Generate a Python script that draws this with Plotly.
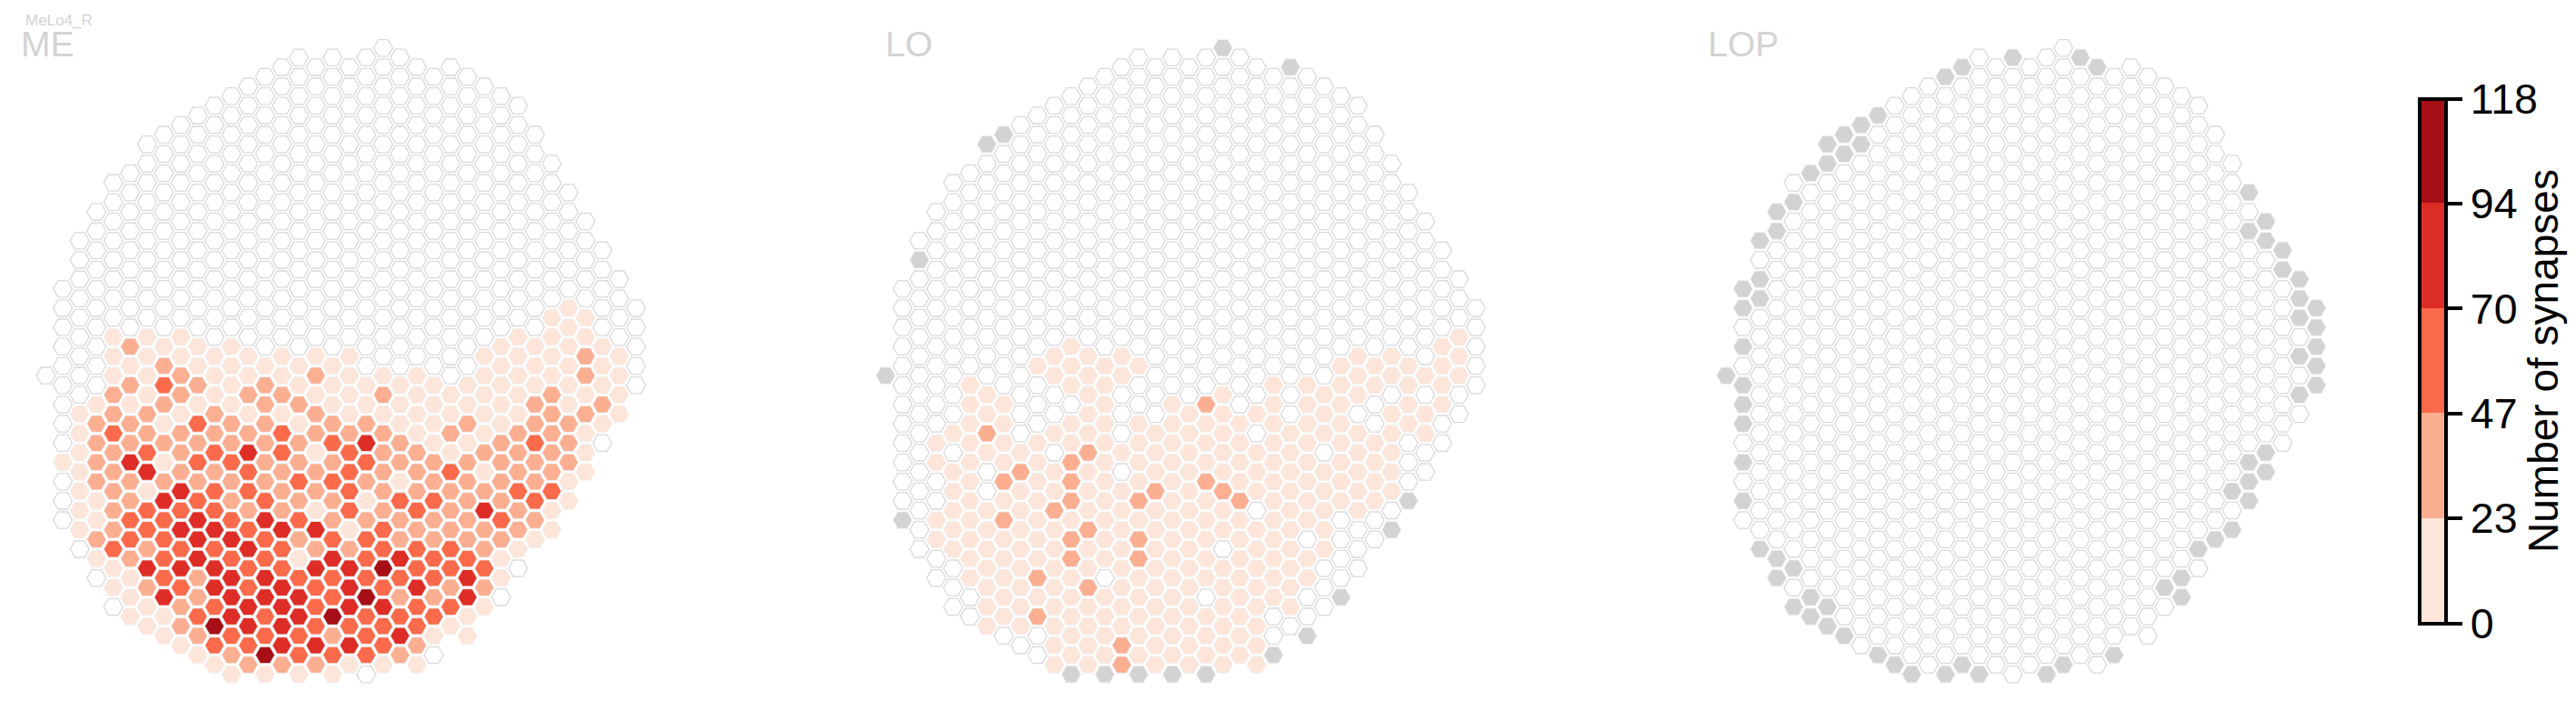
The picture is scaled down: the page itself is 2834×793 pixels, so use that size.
import plotly.graph_objects as go

# ---------- shared hexagon grid: first/last column of every half-row ----------
ROW_FIRST = [0,-5,-6,-7,-8,-9,-10,-11,-12,-13,-14,-13,-14,-15,-16,-15,-16,-17,-16,-17,-18,-17,-18,-17,-18,-19,-18,
             -19,-18,-19,-18,-19,-18,-19,-20,-19,-18,-19,-18,-19,-18,-19,-18,-19,-18,-19,-18,-19,-18,-19,-18,-17,-18,
             -17,-16,-17,-16,-15,-16,-15,-14,-13,-12,-11,-10,-9]
ROW_LAST = [0,1,4,5,6,7,8,7,8,9,8,9,10,9,10,11,10,11,12,11,12,13,12,13,14,13,14,
            15,14,15,14,15,14,15,14,15,14,13,14,13,12,13,12,11,12,11,10,11,10,9,10,9,8,
            7,8,7,6,7,6,5,4,5,2,3,2,-1]

# ---------- bins: '.' no synapses, 1-5 colour bins, g = column absent ----------
TICK_LABELS = ["0", "23", "47", "70", "94", "118"]
BIN_EDGES = [0, 23.6, 47.2, 70.8, 94.4, 118]
BIN_COLORS = {".": "#ffffff", "1": "#fee5d9", "2": "#fcae91", "3": "#fb6a4a", "4": "#de2d26", "5": "#a50f15", "g": "#d3d3d3"}

ME_ROWS = {
27: "...............1..",
28: "..............11.",
29: "...............1..",
30: ".111.........111.",
31: "..2111.......1111.",
32: ".11111111...11121",
33: "..1211111....1111.",
34: "..1121112111.11121",
35: "..232121111111111.",
36: ".2121221121111211",
37: ".1121122111111212",
38: "12212112111111221",
39: ".2213221221121221",
40: "1322223222121221",
41: ".222222234211232.",
42: "1232343132212221",
43: "1241332223222222",
44: "1242232232231221",
45: ".222222332122221",
46: "121433223222233",
47: ".124323221332231",
48: "123332213232421",
49: ".13343432222232",
50: "123443441322221",
51: "23344323322221",
52: ".3233432233321",
53: "1234331434331",
54: "144433445333.",
55: ".132443333341",
56: "123434343422",
57: "14244435224.",
58: ".12344344331",
59: "11343453331",
60: "1254433331",
61: "1233323411",
62: "13344432",
63: "1253332.",
64: "1222111",
65: "1111.",
}

LO_ROWS = {
30: "................1",
31: ".....1..........1.",
32: "....111......11.1",
33: "....1111.....1111.",
34: "g....111......1111",
35: "..1..11....111111.",
36: "..1..1...1..11...",
37: "..11..1.12.111.11",
38: "..1..1..111.1.11.",
39: "..11.111111111.1.",
40: ".12.11.111.11111",
41: ".11111111111111..",
42: "..11.2111111.11.",
43: ".11112111111111.",
44: ".1.211.11111111.",
45: "..1212111211111.",
46: ".1.111121211111",
47: "..1112121121111g",
48: ".111211111.111.",
49: "g112111111111..",
50: ".111121111111.g",
51: "11112121111...",
52: ".11111111.111.",
53: ".11121211111.",
54: ".1111111111..",
55: ".1121.111111.",
56: ".1112111111.",
57: ".111111.11.g",
58: ".1111111111.",
59: ".12111111..",
60: "111111111.",
61: "..111111.g",
62: ".1121111",
63: ".111111g",
64: "1121111",
65: "ggggg",
}
LO_GREY = [(0,0),(4,2),(-13,9),(-14,10),(-18,22)]

LOP_GREY = [(-3,1),(1,1),(2,2),(-6,2),(-7,3),(-11,7),(-12,8),(-13,9),(-12,10),(-14,10),(-13,11),(-14,12),(-15,13),
            (-16,16),(-17,17),(-17,19),(-18,20),(-18,24),(-19,25),(-18,26),(-19,27),(-19,31),
            (11,15),(12,18),(11,19),(12,20),(13,21),(13,23),(14,24),(14,26),(15,27),(14,28),(15,29),(15,31),(14,32),(15,33),
            (-20,34),(-19,35),(-19,37),(-19,39),(-19,43),(-19,47),
            (15,35),(14,36),(12,42),(11,43),(12,44),(11,45),(10,46),(11,47),(10,50),(9,51),(8,52),(7,55),(6,56),(7,57),(3,63),
            (-18,52),(-17,53),(-16,54),(-17,55),(-15,57),(-16,58),(-14,58),(-15,59),(-14,60),(-13,61),
            (-11,63),(-10,64),(-9,65),(-7,65),(-6,64),(-5,65),(-1,65),(0,64)]

PANEL_NAMES = ["ME", "LO", "LOP"]
PANEL_C0_PX = [421.5, 1345.4, 2270.1]
PANEL_SPAN_PX = [(0, 900), (930, 1840), (1860, 2620)]
LABEL_PX = [22, 973, 1878]

W, H = 2834, 793
COL_PX, ROW_PX, TOP_PX = 18.55, 10.6, 52.7


def panel_cells(rows, grey):
    cells = {k: ([], []) for k in BIN_COLORS}
    for r, (a, b) in enumerate(zip(ROW_FIRST, ROW_LAST)):
        n = (b - a) // 2 + 1
        s = rows.get(r, "." * n)
        assert len(s) == n, (r, n, len(s))
        for i, ch in enumerate(s):
            c = a + 2 * i
            if (c, r) in grey:
                ch = "g"
            cells[ch][0].append(c)
            cells[ch][1].append(r)
    return cells


fig = go.Figure()
for i, (rows, grey) in enumerate([(ME_ROWS, []), (LO_ROWS, LO_GREY), ({}, LOP_GREY)]):
    cells = panel_cells(rows, set(grey))
    sfx = "" if i == 0 else str(i + 1)
    for key, (xs, ys) in cells.items():
        if not xs:
            continue
        white = key == "."
        fig.add_trace(go.Scatter(
            x=xs, y=ys, mode="markers", xaxis="x" + sfx, yaxis="y" + sfx, showlegend=False,
            hoverinfo="skip",
            marker=dict(symbol="hexagon2", size=21 if white else 21.2, color=BIN_COLORS[key],
                        line=dict(width=1.3 if white else 0.9, color="#d9d9d9" if white else "#efefef")),
        ))
    p0, p1 = PANEL_SPAN_PX[i]
    c0 = PANEL_C0_PX[i]
    axis_x = dict(domain=[p0 / W, p1 / W], range=[(p0 - c0) / COL_PX, (p1 - c0) / COL_PX], visible=False)
    axis_y = dict(domain=[0, 1], range=[(H - TOP_PX) / ROW_PX, -TOP_PX / ROW_PX], visible=False)
    fig.update_layout({"xaxis" + sfx: axis_x, "yaxis" + sfx: axis_y})
    fig.add_annotation(text=PANEL_NAMES[i], xref="paper", yref="paper", x=LABEL_PX[i] / W, y=1 - 48 / H,
                       xanchor="left", yanchor="middle", showarrow=False,
                       font=dict(family="Liberation Sans", size=39, color="#d3d3d3"), borderpad=0)

fig.add_annotation(text="MeLo4_R", xref="paper", yref="paper", x=27 / W, y=1 - 22 / H, xanchor="left",
                   yanchor="middle", showarrow=False, borderpad=0,
                   font=dict(family="Liberation Sans", size=17, color="#d3d3d3"))

colors = [BIN_COLORS[k] for k in "12345"]
scale = []
for j, col in enumerate(colors):
    scale += [[BIN_EDGES[j] / 118, col], [BIN_EDGES[j + 1] / 118, col]]
fig.add_trace(go.Scatter(
    x=[None], y=[None], mode="markers", showlegend=False, hoverinfo="skip",
    marker=dict(color=[0], cmin=0, cmax=118, colorscale=scale, showscale=True, colorbar=dict(
        thickness=28.5, thicknessmode="pixels", len=576.5, lenmode="pixels",
        x=2662 / W, xanchor="left", xref="paper", xpad=0,
        y=1 - 108.5 / H, yanchor="top", yref="paper", ypad=0,
        tickmode="array", tickvals=BIN_EDGES, ticktext=TICK_LABELS, ticks="outside", ticklen=16, tickwidth=4,
        tickcolor="black", outlinewidth=4, outlinecolor="black", borderwidth=0,
        tickfont=dict(family="Liberation Sans", size=46.5, color="black"),
        title=dict(text="Number of synapses", side="right", font=dict(family="Liberation Sans", size=46, color="black")),
    )),
))

fig.update_layout(width=W, height=H, margin=dict(l=0, r=0, t=0, b=0), paper_bgcolor="white", plot_bgcolor="white")
fig.write_html("out.html", config={"displayModeBar": False},
               post_script="document.body.style.margin='0';document.documentElement.style.overflow='hidden';")
